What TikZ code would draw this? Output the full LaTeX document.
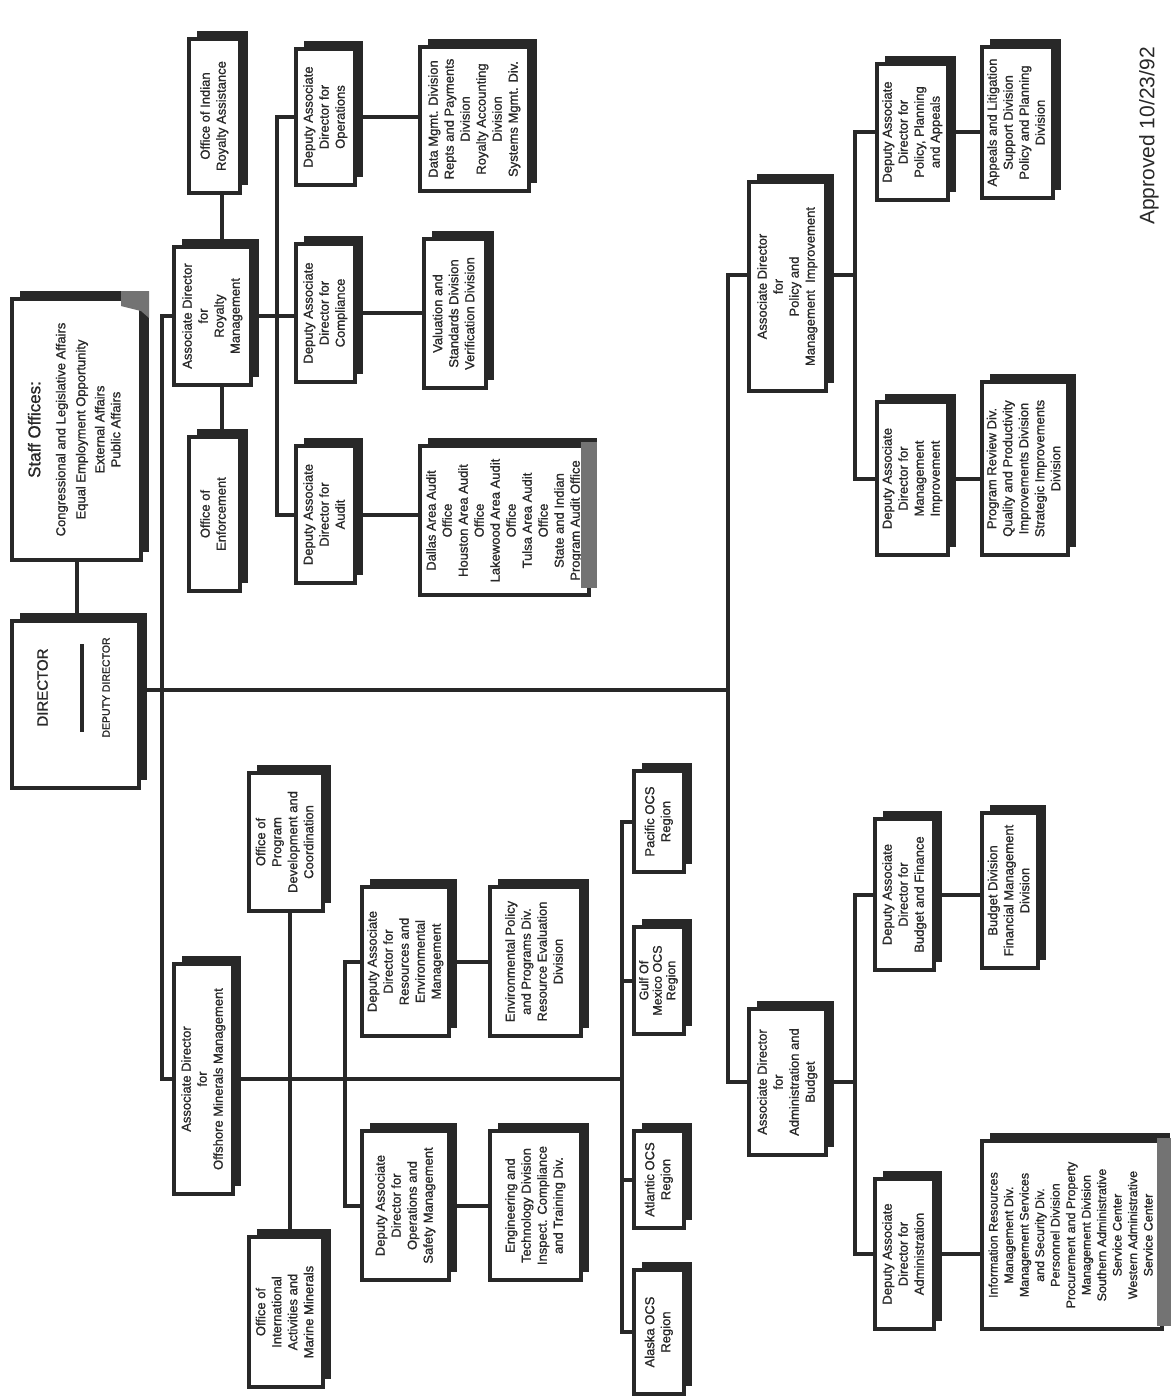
\documentclass[tikz,border=0pt]{standalone}
\usepackage{fontspec}
\setmainfont{Liberation Sans}[FakeBold=1.1]
\newfontfamily\apfont{Liberation Sans}
\usepackage{graphicx}
\usetikzlibrary{shadows}
\definecolor{dk}{RGB}{40,40,40}
\definecolor{gr}{RGB}{115,115,115}
\newcommand\bxf{\fontsize{13}{16}\selectfont}
\newcommand\ob[7]{%
  \node[box, minimum width={(#4-#2-11)*1pt}, minimum height={(#5-#3-11)*1pt}] (#1)
    at ({(#2+#4)/2-3.5},{(#3+#5)/2+3.5})
    {\rotatebox{90}{#6\begin{tabular}{@{}c@{}}#7\end{tabular}}};}
\begin{document}
\begin{tikzpicture}[x=1pt,y=-1pt,
  box/.style={draw=dk, line width=4pt, fill=white, inner sep=0pt, text=dk, font=\bxf,
    drop shadow={shadow xshift=8pt,shadow yshift=8pt,fill=dk,opacity=1}},
  ln/.style={draw=dk, line width=4pt, line cap=rect}]
\fill[white] (0,0) rectangle (1171,1399);
\useasboundingbox (0,0) rectangle (1171,1399);

% ---- top part
\ob{staff}{10}{290}{150}{562}{}{{\fontsize{17}{20}\selectfont Staff Offices:}\\[9pt]
  Congressional and Legislative Affairs\\[4pt] Equal Employment Opportunity\\[3pt]
  External Affairs\\ Public Affairs}
\ob{director}{10}{612}{148}{790}{\hspace*{34pt}}{{\fontsize{15}{18}\selectfont DIRECTOR}\\[20pt]
  \rule{88pt}{3.5pt}\\[10pt] {\fontsize{10.5}{13}\selectfont DEPUTY DIRECTOR}}

\ob{oira}{187}{30}{249}{195}{}{Office of Indian\\Royalty Assistance}
\ob{adroy}{172}{238}{260}{387}{}{Associate Director\\for\\Royalty\\Management}
\ob{oe}{187}{428}{249}{593}{}{Office of\\Enforcement}
\ob{dadops}{294}{40}{364}{187}{}{Deputy Associate\\Director for\\Operations}
\ob{dadcomp}{294}{235}{364}{384}{}{Deputy Associate\\Director for\\Compliance}
\ob{dadaudit}{294}{437}{364}{585}{}{Deputy Associate\\Director for\\Audit}
\ob{datamgmt}{418}{38}{538}{193}{}{Data Mgmt. Division\\Repts and Payments\\Division\\Royalty Accounting\\Division\\Systems Mgmt. Div.}
\ob{valuation}{422}{230}{495}{390}{}{Valuation and\\Standards Division\\Verification Division}
\ob{dallas}{418}{437}{598}{597}{}{Dallas Area Audit\\Office\\Houston Area Audit\\Office\\Lakewood Area Audit\\Office\\Tulsa Area Audit\\Office\\State and Indian\\Program Audit Office}

% ---- policy
\ob{adpol}{747}{173}{835}{393}{}{Associate Director\\for\\Policy and\\Management\ \ Improvement}
\ob{dadpol}{875}{55}{957}{202}{}{Deputy Associate\\Director for\\Policy, Planning\\and Appeals}
\ob{appeals}{980}{38}{1062}{200}{}{Appeals and Litigation\\Support Division\\Policy and Planning\\Division}
\ob{dadmgmt}{875}{393}{957}{557}{}{Deputy Associate\\Director for\\Management\\Improvement}
\ob{progrev}{980}{373}{1077}{557}{}{Program Review Div.\\Quality and Productivity\\Improvements Division\\Strategic Improvements\\Division}

% ---- administration
\ob{adadmin}{747}{1000}{835}{1157}{}{Associate Director\\for\\Administration and\\Budget}
\ob{dadbud}{873}{810}{943}{972}{}{Deputy Associate\\Director for\\Budget and Finance}
\ob{budget}{980}{804}{1047}{970}{}{Budget Division\\Financial Management\\Division}
\ob{dadadm}{873}{1170}{943}{1331}{}{Deputy Associate\\Director for\\Administration}
\ob{info}{980}{1132}{1171}{1331}{\fontsize{12.5}{15.5}\selectfont}{Information Resources\\Management Div.\\Management Services\\and Security Div.\\Personnel Division\\Procurement and Property\\Management Division\\Southern Administrative\\Service Center\\Western Administrative\\Service Center}

% ---- offshore
\ob{adoff}{172}{955}{242}{1196}{}{Associate Director\\for\\Offshore Minerals Management}
\ob{opdc}{247}{764}{332}{913}{}{Office of\\Program\\Development and\\Coordination}
\ob{oiamm}{247}{1228}{332}{1389}{}{Office of\\International\\Activities and\\Marine Minerals}
\ob{dadre}{360}{878}{458}{1038}{}{Deputy Associate\\Director for\\Resources and\\Environmental\\Management}
\ob{envpol}{488}{878}{590}{1038}{}{Environmental Policy\\and Programs Div.\\Resource Evaluation\\Division}
\ob{dados}{360}{1122}{458}{1282}{}{Deputy Associate\\Director for\\Operations and\\Safety Management}
\ob{eng}{488}{1122}{590}{1282}{}{Engineering and\\Technology Division\\Inspect. Compliance\\and Training Div.}
\ob{pacific}{632}{762}{693}{874}{}{Pacific OCS\\Region}
\ob{gulf}{632}{918}{693}{1036}{\fontsize{12.5}{13.5}\selectfont}{Gulf Of\\Mexico OCS\\Region}
\ob{atlantic}{632}{1122}{693}{1230}{}{Atlantic OCS\\Region}
\ob{alaska}{632}{1261}{693}{1396}{}{Alaska OCS\\Region}

\node[text=dk, rotate=90, font=\apfont\fontsize{21}{24}\selectfont] (appr) at (1149,136) {Approved 10/23/92};

% ---- connectors
\coordinate (jl) at (162,690);
\coordinate (jr) at (728,690);
\coordinate (ypol) at (0,275);
\coordinate (rbx) at (277,0);
\coordinate (oax) at (222,0);
\coordinate (pbx) at (855,0);
\coordinate (obx) at (622,0);
\coordinate (dbx) at (345,0);
\coordinate (ox) at (290,0);

\draw[ln] (staff.south) -- (staff.south |- director.north);
\draw[ln] (director.east |- jl) -- (jr);
\draw[ln] (adroy.west) -| (jl) |- (adoff.west);
\draw[ln] (adpol.west |- ypol) -| (jr) |- (adadmin.west);

\draw[ln] (oira.south -| oax) -- (adroy.north -| oax);
\draw[ln] (adroy.south -| oax) -- (oe.north -| oax);
\draw[ln] (adroy.east) -- (dadcomp.west |- adroy.east);
\draw[ln] (dadops.west) -- (dadops.west -| rbx) -- (dadaudit.west -| rbx) -- (dadaudit.west);
\draw[ln] (dadops.east) -- (dadops.east -| datamgmt.west);
\draw[ln] (dadcomp.east) -- (dadcomp.east -| valuation.west);
\draw[ln] (dadaudit.east) -- (dadaudit.east -| dallas.west);

\draw[ln] (adpol.east |- ypol) -- (pbx |- ypol);
\draw[ln] (dadpol.west) -- (dadpol.west -| pbx) -- (dadmgmt.west -| pbx) -- (dadmgmt.west);
\draw[ln] (dadpol.east) -- (dadpol.east -| appeals.west);
\draw[ln] (dadmgmt.east) -- (dadmgmt.east -| progrev.west);

\draw[ln] (adadmin.east) -- (adadmin.east -| pbx);
\draw[ln] (dadbud.west) -- (dadbud.west -| pbx) -- (dadadm.west -| pbx) -- (dadadm.west);
\draw[ln] (dadbud.east) -- (dadbud.east -| budget.west);
\draw[ln] (dadadm.east) -- (dadadm.east -| info.west);

\draw[ln] (adoff.east) -- (adoff.east -| obx);
\draw[ln] (opdc.south -| ox) -- (oiamm.north -| ox);
\draw[ln] (dadre.west) -- (dadre.west -| dbx) -- (dados.west -| dbx) -- (dados.west);
\draw[ln] (dadre.east) -- (dadre.east -| envpol.west);
\draw[ln] (dados.east) -- (dados.east -| eng.west);
\draw[ln] (pacific.west) -- (pacific.west -| obx) -- (alaska.west -| obx) -- (alaska.west);
\draw[ln] (gulf.west) -- (gulf.west -| obx);
\draw[ln] (atlantic.west) -- (atlantic.west -| obx);

% ---- grey marks of the original
\fill[gr] (581,442) rectangle (597,588);
\fill[gr] (1157,1138) rectangle (1171,1326);
\fill[gr] (121,291) -- (149,291) -- (149,318) -- (141,311) -- (121,306) -- cycle;
\end{tikzpicture}
\end{document}
